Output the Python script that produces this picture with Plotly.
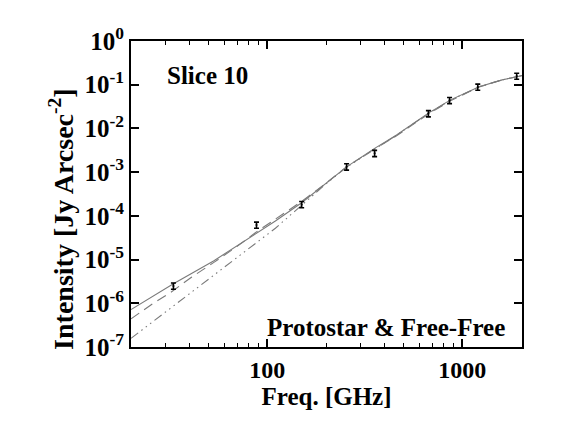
import plotly.graph_objects as go

# Observed data
obs_freq = [33, 88, 150, 255, 355, 670, 860, 1200, 1900]
obs_int = [2.5e-6, 6.2e-5, 1.83e-4, 1.33e-3, 2.7e-3, 0.022, 0.044, 0.089, 0.158]
obs_err = [4.0e-7, 1.0e-5, 3.0e-5, 2.2e-4, 4.4e-4, 3.6e-3, 7.0e-3, 1.4e-2, 2.5e-2]

# Model curves
tot_freq = [20, 33, 53, 70, 88, 110, 150, 200, 255, 355, 460, 670, 870, 1220, 1600, 1900, 2100]
tot_int = [7.2e-7, 2.8e-6, 9.3e-6, 2.1e-5, 4.0e-5, 7.6e-5, 2.0e-4, 5.5e-4, 1.32e-3, 3.5e-3,
           7.1e-3, 2.24e-2, 4.5e-2, 9.0e-2, 0.129, 0.152, 0.168]

dash_freq = [20, 26, 32, 41, 53, 70, 88, 110, 150, 200, 255, 355, 460, 670, 870, 1220, 1600, 2100]
dash_int = [4.4e-7, 1.0e-6, 1.78e-6, 4.0e-6, 8.5e-6, 2.0e-5, 4.3e-5, 8.5e-5, 2.14e-4, 5.6e-4,
            1.32e-3, 3.4e-3, 6.8e-3, 2.14e-2, 4.3e-2, 8.9e-2, 0.129, 0.167]

dd_freq = [20, 30, 45, 60, 75, 90, 110, 130, 150, 200, 255, 355, 460, 670, 870, 1220, 1600, 2100]
dd_int = [1.58e-7, 6.3e-7, 2.5e-6, 6.6e-6, 1.41e-5, 2.6e-5, 5.2e-5, 1.0e-4, 1.78e-4, 5.4e-4,
          1.30e-3, 3.43e-3, 7.0e-3, 2.21e-2, 4.42e-2, 8.97e-2, 0.129, 0.168]

y_tickvals = [1e-7, 1e-6, 1e-5, 1e-4, 1e-3, 1e-2, 1e-1, 1]
y_ticktext = ["<b>10<sup>-7</sup></b>", "<b>10<sup>-6</sup></b>", "<b>10<sup>-5</sup></b>",
              "<b>10<sup>-4</sup></b>", "<b>10<sup>-3</sup></b>", "<b>10<sup>-2</sup></b>",
              "<b>10<sup>-1</sup></b>", "<b>10<sup>0</sup></b>"]
x_tickvals = [100, 1000]
x_ticktext = ["<b>100</b>", "<b>1000</b>"]
x_minor = [30, 40, 50, 60, 70, 80, 90, 200, 300, 400, 500, 600, 700, 800, 900, 2000]

FONT = "Liberation Serif, Times New Roman, serif"
GRAY = "#7a7a7a"

fig = go.Figure()
fig.add_trace(go.Scatter(x=dd_freq, y=dd_int, mode="lines",
                         line=dict(color=GRAY, width=1.1, dash="9px,4px,1.5px,4px,1.5px,4px,1.5px,4px"),
                         showlegend=False))
fig.add_trace(go.Scatter(x=dash_freq, y=dash_int, mode="lines",
                         line=dict(color=GRAY, width=1.1, dash="10px,6px"),
                         showlegend=False))
fig.add_trace(go.Scatter(x=tot_freq, y=tot_int, mode="lines",
                         line=dict(color=GRAY, width=1.1),
                         showlegend=False))
fig.add_trace(go.Scatter(x=obs_freq, y=obs_int, mode="markers",
                         marker=dict(color="black", size=2),
                         error_y=dict(type="data", array=obs_err, color="black",
                                      thickness=1.6, width=2.5),
                         showlegend=False))

fig.update_xaxes(type="log", range=[1.301, 3.306],
                 tickmode="array", tickvals=x_tickvals, ticktext=x_ticktext,
                 ticks="inside", ticklen=8, tickwidth=1.5, tickcolor="black",
                 minor=dict(tickvals=x_minor, ticks="inside", ticklen=4, tickwidth=1.2,
                            tickcolor="black", showgrid=False),
                 showline=True, linecolor="black", linewidth=2, mirror="allticks",
                 showgrid=False, zeroline=False,
                 tickfont=dict(family=FONT, size=24, color="black"),
                 title=dict(text="<b>Freq. [GHz]</b>", font=dict(family=FONT, size=25, color="black"),
                            standoff=4))
fig.update_yaxes(type="log", range=[-7, 0],
                 tickmode="array", tickvals=y_tickvals, ticktext=y_ticktext,
                 ticks="inside", ticklen=8, tickwidth=1.5, tickcolor="black",
                 showline=True, linecolor="black", linewidth=2, mirror="allticks",
                 showgrid=False, zeroline=False,
                 tickfont=dict(family=FONT, size=25, color="black"))

fig.add_annotation(text="<b>Intensity [Jy Arcsec<sup>-2</sup>]</b>", textangle=-90,
                   xref="paper", yref="paper", x=-0.178, y=0.42,
                   xanchor="center", yanchor="middle", showarrow=False,
                   font=dict(family=FONT, size=28, color="black"))
fig.add_annotation(text="<b>Slice 10</b>", xref="paper", yref="paper", x=0.087, y=0.886,
                   xanchor="left", yanchor="middle", showarrow=False,
                   font=dict(family=FONT, size=25, color="black"))
fig.add_annotation(text="<b>Protostar & Free-Free</b>", xref="paper", yref="paper",
                   x=0.962, y=0.065, xanchor="right", yanchor="middle", showarrow=False,
                   font=dict(family=FONT, size=25, color="black"))

fig.update_layout(width=561, height=432, margin=dict(l=131, r=39, t=41, b=85),
                  paper_bgcolor="white", plot_bgcolor="white")
fig.write_html("out.html")
